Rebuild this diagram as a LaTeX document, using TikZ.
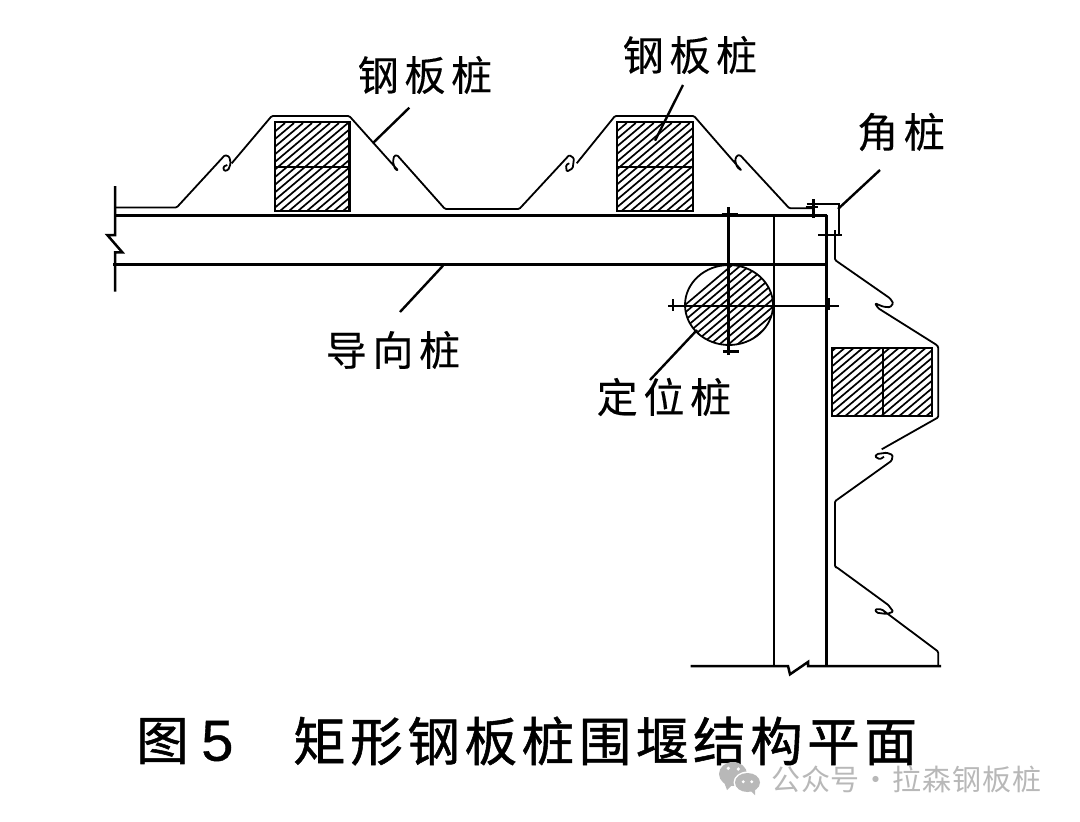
\documentclass[tikz,border=0pt]{standalone}
\usepackage{fontspec}
\setmainfont{Noto Sans CJK SC}
\newfontfamily\digitfont[FakeBold=0.6]{Liberation Sans}
\newfontfamily\titlefont[FakeBold=1.0,LetterSpace=8.8]{Noto Sans CJK SC}
\newfontfamily\labelfont[FakeBold=0.3,LetterSpace=14]{Noto Sans CJK SC}
\newfontfamily\markfont[LetterSpace=3]{Noto Sans CJK SC}
\tikzset{
  x=1pt,y=-1pt,
  pileline/.style={line width=1.8pt,line join=round,rounded corners=1.2pt},
  mainline/.style={line width=2.5pt},
  thinmark/.style={line width=1.8pt},
  leader/.style={line width=2.4pt},
  woodbox/.style={line width=2.3pt},
  hatchline/.style={line width=1.7pt},
  lbl/.style={inner sep=0pt,font=\labelfont\fontsize{41}{41}\selectfont},
  ttl/.style={inner sep=0pt,font=\titlefont\fontsize{52.5}{52.5}\selectfont},
  wm/.style={inner sep=0pt,text=black!28,font=\markfont\fontsize{29}{29}\selectfont},
}
\newcommand{\hatchbox}[4]{%
  \begin{scope}
    \clip (#1,#2) rectangle (#3,#4);
    \foreach \k in {0,9,...,270}{
      \draw[hatchline] (#1-100+\k,#4+5) -- ++(110,-93);
    }
  \end{scope}
  \draw[woodbox] (#1,#2) rectangle (#3,#4);
}
\begin{document}
\begin{tikzpicture}
\useasboundingbox (0,0) rectangle (1080,822);
\fill[white] (0,0) rectangle (1080,822);

% guide pile
\draw[mainline] (115,215.7) -- (826.7,215.7);
\draw[mainline] (113,264.7) -- (826.7,264.7);
\draw[mainline,line join=miter] (115,186) -- (115,235) -- (107.3,235) -- (122.3,252.3) -- (115,252.3) -- (115,291.7);

% timber boxes
\hatchbox{275}{121.7}{349.5}{211}
\draw[woodbox] (275,167) -- (349.5,167);
\hatchbox{616.7}{121.7}{692.7}{211}
\draw[woodbox] (616.7,167) -- (692.7,167);
\hatchbox{831.7}{348}{931.7}{415.7}
\draw[woodbox] (883.3,348) -- (883.3,415.7);

% top sheet piles
\draw[pileline] (115,207.5) -- (176.7,207.5) -- (225,155) -- (229.3,156.7) -- (230.7,163.3) -- (228.3,170) -- (224,171) -- (223.3,166.7) -- (227.3,165);
\draw[pileline] (231.7,163.3) -- (271.7,116) -- (349.3,116) -- (398.3,170.7) -- (395,169) -- (393,162) -- (394,156) -- (397,155) -- (445,209) -- (519.3,209) -- (569.3,155) -- (574,158.3) -- (572.7,168.3) -- (566.7,171.7) -- (566,165) -- (569.3,163.3);
\draw[pileline] (576.7,163.3) -- (615,116) -- (694,116) -- (741.7,170.7) -- (737,167) -- (735,160) -- (737,155.5) -- (740,155) -- (789.3,208.3) -- (813,208.3);

% corner pile
\draw[line width=1.8pt] (806.7,204.3) -- (839.3,204.3) -- (839.3,235);
\draw[pileline] (835,230) -- (835,260) -- (890,298.3) -- (893.3,303.3) -- (890,307.3) -- (883.3,306.7) -- (875,303.3) -- (878.3,308.3) -- (936.7,345) -- (938.3,347) -- (938.3,417.3) -- (881.7,449.3);
\draw[pileline] (836.7,500) -- (891.7,460.7) -- (892.7,455) -- (886.7,452.7) -- (877,454) -- (875,456.7) -- (880,459.3) -- (884,456.7);
\draw[pileline] (836.7,500) -- (835,501) -- (835,567) -- (836.7,567.3) -- (888.3,605) -- (893.3,611.7) -- (886.7,614) -- (876.7,612.7) -- (875,609.3) -- (881.7,609.3) -- (938.3,651.7) -- (938.3,666);
\draw[mainline] (813.3,199.3) -- (813.3,218.3);
\draw[thinmark] (805.7,206.7) -- (818.3,206.7);
\draw[thinmark] (818.3,235) -- (841.7,235);

% wales
\draw[mainline] (774,215.7) -- (774,666);
\draw[mainline] (826.7,214.5) -- (826.7,666);
\draw[mainline,line join=miter] (690.7,666) -- (788,666) -- (790,674.3) -- (808,662) -- (808,666) -- (941,666);

% locating pile
\begin{scope}
  \clip (729,305) ellipse [x radius=44,y radius=40];
  \foreach \k in {0,9,...,200}{
    \draw[hatchline] (620+\k,360) -- ++(130,-110);
  }
\end{scope}
\draw[line width=1.8pt] (729,305) ellipse [x radius=44,y radius=40];
\draw[mainline] (728.3,207.3) -- (728.3,355);
\draw[mainline] (721.7,214.3) -- (738.3,214.3);
\draw[mainline] (723,351.7) -- (739,351.7);
\draw[thinmark] (668,306) -- (839.3,306);
\draw[thinmark] (673,299) -- (673,311);
\draw[thinmark] (829,298) -- (829,310);

% labels
\node[lbl] (a) at (425,75) {钢板桩};
\node[lbl] (b) at (690,55) {钢板桩};
\node[lbl] (c) at (901,132) {角桩};
\node[lbl] (d) at (393,350) {导向桩};
\node[lbl] (e) at (664,397) {定位桩};
\coordinate (a1) at (372.7,143.3); \coordinate (a2) at (409.3,107.7);
\coordinate (b1) at (655,140.7); \coordinate (b2) at (683,85);
\coordinate (c1) at (838,209); \coordinate (c2) at (880,170);
\coordinate (d1) at (443,265.7); \coordinate (d2) at (400,312);
\coordinate (e1) at (697,330); \coordinate (e2) at (650,380);
\draw[leader] (a1) -- (a2);
\draw[leader] (b1) -- (b2);
\draw[leader] (c1) -- (c2);
\draw[leader] (d1) -- (d2);
\draw[leader] (e1) -- (e2);

% title
\node[ttl,anchor=west] (t1) at (136,741) {图};
\node[inner sep=0pt,anchor=west,font=\digitfont\fontsize{58}{58}\selectfont] (t3) at (201,741) {5};
\node[ttl,anchor=west] (t2) at (293,741) {矩形钢板桩围堰结构平面};

% watermark
\fill[black!28] (733,774) ellipse [x radius=14,y radius=12];
\fill[black!28] (724,782) -- (727,790) -- (733,784) -- cycle;
\fill[white] (747.5,782.5) ellipse [x radius=14,y radius=11];
\fill[black!28] (747.5,782.5) ellipse [x radius=12.5,y radius=9.5];
\fill[black!28] (750,790) -- (755,795) -- (755,787) -- cycle;
\fill[white] (728.3,768.3) circle (1.8) (738.3,769) circle (1.8) (743.3,781.7) circle (1.6) (751.7,781.7) circle (1.6);
\node[wm,anchor=west] (w) at (771,779) {公众号\kern2pt·\kern2pt 拉森钢板桩};
\end{tikzpicture}
\end{document}
